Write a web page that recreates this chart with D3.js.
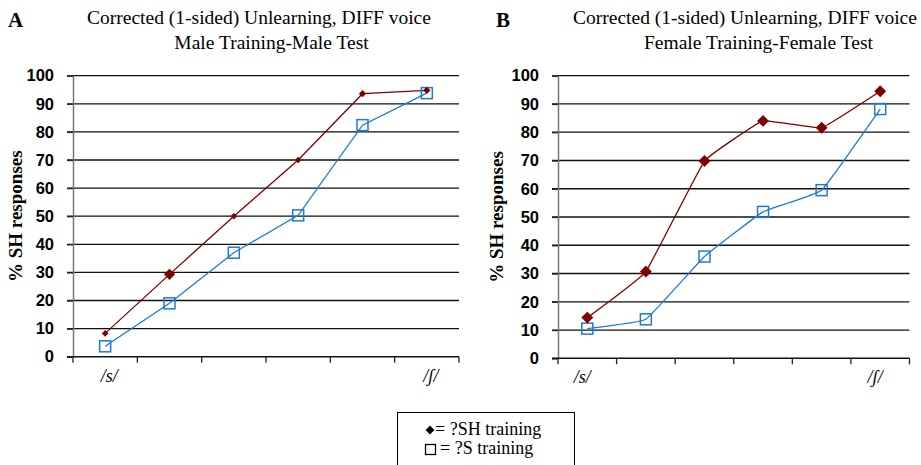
<!DOCTYPE html>
<html><head><meta charset="utf-8">
<script src="https://cdn.jsdelivr.net/npm/d3@7"></script>
<style>
html,body{margin:0;padding:0;background:#fff;}
svg{display:block;}
.serif{font-family:'Liberation Serif','Times New Roman',serif;}
.sans{font-family:'Liberation Sans',Arial,sans-serif;}
</style></head>
<body>
<script>
// ---- data ----
const categories = ["/s/", "", "", "", "", "/ʃ/"];
const yTicks = [0,10,20,30,40,50,60,70,80,90,100];
const shTrainingA = [8.3, 29.3, 50, 70, 93.6, 94.8];
const sTrainingA  = [3.7, 19, 37, 50.3, 82.4, 93.8];
const shTrainingB = [14.4, 30.7, 69.8, 84, 81.6, 94.5];
const sTrainingB  = [10.5, 13.8, 36, 51.8, 59.5, 88.2];
const titleLine1 = "Corrected (1-sided) Unlearning, DIFF voice";
const subtitleA = "Male Training-Male Test";
const subtitleB = "Female Training-Female Test";
const legendLabels = ["= ?SH training", "= ?S training"];

const W = 921, H = 465;
const red = "#800000", blue = "#1f7ad6";
const svg = d3.select("body").append("svg").attr("width", W).attr("height", H);

function panel(opt) {
  const g = svg.append("g");
  const x = d3.scaleBand().domain(d3.range(categories.length)).range([opt.x0, opt.x1]);
  const y = d3.scaleLinear().domain([0, 100]).range([opt.y0, opt.y1]);

  g.selectAll("line.grid").data(yTicks.filter(d => d > 0)).join("line")
    .attr("x1", opt.x0 - 6).attr("x2", opt.x1)
    .attr("y1", d => y(d)).attr("y2", d => y(d))
    .attr("stroke", "#111").attr("stroke-width", 1.3);

  const ya = g.append("g").attr("transform", `translate(${opt.x0},0)`)
    .call(d3.axisLeft(y).tickValues(yTicks).tickSize(6).tickPadding(13));
  ya.select(".domain").attr("stroke", "#777").attr("stroke-width", 1.5);
  ya.selectAll(".tick line").attr("stroke", "#222").attr("stroke-width", 1.3);
  ya.selectAll(".tick text").attr("class", "sans").attr("font-family", null)
    .attr("font-weight", "bold").attr("font-size", 16.5).attr("fill", "#000");

  const xa = g.append("g").attr("transform", `translate(0,${opt.y0})`);
  xa.append("line").attr("x1", opt.x0 - 6).attr("x2", opt.x1)
    .attr("stroke", "#111").attr("stroke-width", 1.5);
  const bounds = d3.range(categories.length + 1).map(i => i < categories.length ? x(i) : x(i - 1) + x.bandwidth());
  xa.selectAll("line.tk").data(bounds).join("line")
    .attr("x1", d => d).attr("x2", d => d).attr("y1", 0).attr("y2", 6)
    .attr("stroke", "#222").attr("stroke-width", 1.3);
  xa.selectAll("text").data(categories).join("text")
    .attr("class", "serif")
    .attr("x", (d, i) => x(i) + x.bandwidth() / 2 + opt.xlOff)
    .attr("y", 25)
    .attr("text-anchor", "middle")
    .attr("font-style", "italic").attr("font-size", 18)
    .text(d => d);

  const cx = i => x(i) + x.bandwidth() / 2;
  const line = d3.line().x((d, i) => cx(i)).y(d => y(d)).curve(opt.curve);

  g.append("path").datum(opt.s).attr("d", line).attr("fill", "none")
    .attr("stroke", blue).attr("stroke-width", 1.3);
  g.append("path").datum(opt.sh).attr("d", line).attr("fill", "none")
    .attr("stroke", red).attr("stroke-width", 1.3);

  g.selectAll("rect.sq").data(opt.s).join("rect")
    .attr("x", (d, i) => cx(i) - opt.sq / 2).attr("y", d => y(d) - opt.sq / 2)
    .attr("width", opt.sq).attr("height", opt.sq)
    .attr("fill", "none").attr("stroke", blue).attr("stroke-width", 1.5);

  const diamond = d3.symbol().type(d3.symbolDiamond2);
  g.selectAll("path.dm").data(opt.sh).join("path")
    .attr("transform", (d, i) => `translate(${cx(i)},${y(d)})`)
    .attr("d", (d, i) => diamond.size(opt.dm[i])())
    .attr("fill", red);

  g.append("text").attr("class", "serif")
    .attr("transform", `translate(${opt.ylx},${(opt.y0 + opt.y1) / 2}) rotate(-90)`)
    .attr("text-anchor", "middle")
    .attr("font-weight", "bold").attr("font-size", 19)
    .text("% SH responses");

  g.append("text").attr("class", "serif").attr("x", opt.letterX).attr("y", 27)
    .attr("font-weight", "bold").attr("font-size", 21).text(opt.letter);
  g.append("text").attr("class", "serif").attr("x", opt.t1x).attr("y", 24).attr("text-anchor", "middle")
    .attr("font-size", 19.5).text(titleLine1);
  g.append("text").attr("class", "serif").attr("x", opt.t2x).attr("y", 49).attr("text-anchor", "middle")
    .attr("font-size", 19.5).text(opt.subtitle);
}

panel({ x0: 73, x1: 459, y0: 356.7, y1: 75.7, sh: shTrainingA, s: sTrainingA,
  curve: d3.curveLinear, sq: 11, dm: [28, 80, 28, 28, 34, 34], ylx: 22, xlOff: 4,
  letter: "A", letterX: 8, t1x: 259, t2x: 271.5, subtitle: subtitleA });
panel({ x0: 558, x1: 909.5, y0: 358.3, y1: 75.7, sh: shTrainingB, s: sTrainingB,
  curve: d3.curveCardinal.tension(0.75), sq: 11, dm: [90, 90, 90, 90, 90, 90], ylx: 503, xlOff: -5,
  letter: "B", letterX: 496, t1x: 745, t2x: 758.5, subtitle: subtitleB });

const lg = svg.append("g");
lg.append("rect").attr("x", 397.5).attr("y", 412.5).attr("width", 177).attr("height", 60)
  .attr("fill", "#fff").attr("stroke", "#000").attr("stroke-width", 1);
lg.append("path").attr("d", d3.symbol().type(d3.symbolDiamond2).size(50)())
  .attr("transform", "translate(430,430)").attr("fill", "#000");
lg.append("rect").attr("x", 425.5).attr("y", 444.5).attr("width", 10).attr("height", 10)
  .attr("fill", "none").attr("stroke", "#000").attr("stroke-width", 1.3);
lg.selectAll("text.lt").data(legendLabels).join("text")
  .attr("class", "serif")
  .attr("x", (d, i) => i === 0 ? 435 : 440).attr("y", (d, i) => 435 + i * 19)
  .attr("font-size", 18)
  .text(d => d);
</script>
</body></html>
